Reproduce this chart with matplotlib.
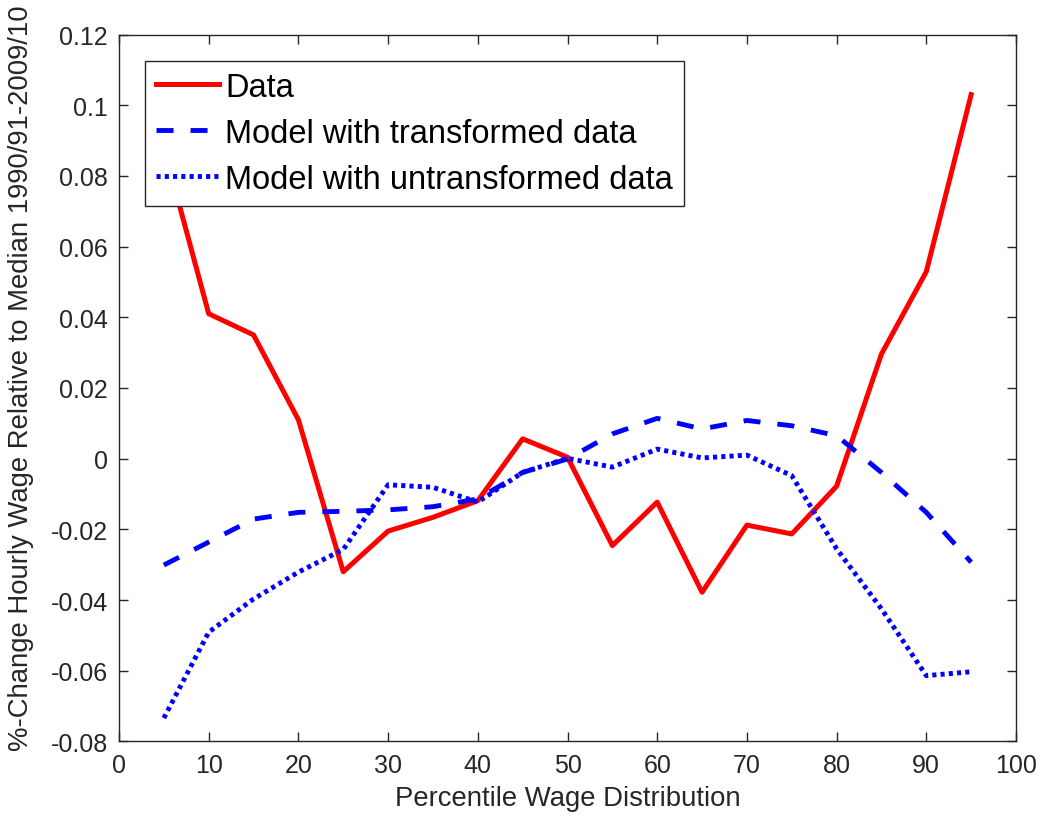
import numpy as np
import matplotlib.pyplot as plt

plt.rcParams['font.family'] = ['Liberation Sans', 'DejaVu Sans']

# percentiles of the wage distribution
pct = [5, 10, 15, 20, 25, 30, 35, 40, 45, 50, 55, 60, 65, 70, 75, 80, 85, 90, 95]

# observed change
data = [0.088, 0.041, 0.035, 0.011, -0.032, -0.0205, -0.0166, -0.0119, 0.0056, 0.0004,
        -0.0246, -0.0123, -0.0378, -0.0188, -0.0213, -0.0078, 0.0296, 0.0529, 0.103]
# model, transformed data
model_tr = [-0.0301, -0.0236, -0.0171, -0.0152, -0.0149, -0.0145, -0.0136, -0.0114, -0.0039, -0.0001,
            0.0070, 0.0114, 0.0084, 0.0108, 0.0093, 0.0065, -0.0039, -0.0152, -0.0293]
# model, untransformed data
model_untr = [-0.0734, -0.0491, -0.0397, -0.0321, -0.0257, -0.0074, -0.0081, -0.0123, -0.0039, 0.0001,
              -0.0024, 0.0027, 0.0002, 0.0010, -0.0048, -0.0255, -0.0425, -0.0614, -0.0603]

fig = plt.figure(figsize=(10.4, 8.28), dpi=100)
ax = fig.add_axes([119/1040, 1 - 742.4/828, 897/1040, 706.9/828])

ax.plot(pct, data, color='#ff0000', lw=3.6, label='Data')
ax.plot(pct, model_tr, color='#0000ff', lw=3.5, ls=(0, (3.5, 3.5)),
        label='Model with transformed data')
ax.plot(pct, model_untr, color='#0000ff', lw=3.5, ls=(0, (0.85, 0.85)),
        label='Model with untransformed data')

ax.set_xlim(0, 100)
ax.set_ylim(-0.08, 0.12)
ax.set_xticks(np.arange(0, 101, 10))
ax.set_yticks(np.arange(-0.08, 0.1201, 0.02))
ax.set_yticklabels(['-0.08', '-0.06', '-0.04', '-0.02', '0', '0.02', '0.04',
                    '0.06', '0.08', '0.1', '0.12'])

ax.tick_params(direction='in', length=6.5, width=1, colors='#262626', labelsize=18,
               top=True, right=True, pad=8)
for s in ax.spines.values():
    s.set_color('#262626')
    s.set_linewidth(1)

ax.set_xlabel('Percentile Wage Distribution', fontsize=19.8, color='#262626', labelpad=6)
ax.set_ylabel('%-Change Hourly Wage Relative to Median 1990/91-2009/10',
              fontsize=19.8, color='#262626')
ax.yaxis.set_label_coords(-0.095, 0.515)

leg = ax.legend(loc='upper left', bbox_to_anchor=(0.029, 0.9625), borderaxespad=0,
                fontsize=23.5, handlelength=1.93, handletextpad=0.2, labelspacing=0.46,
                borderpad=0.33, fancybox=False, framealpha=1)
leg.get_frame().set_edgecolor('#262626')
leg.get_frame().set_linewidth(1)

fig.savefig('out.png', dpi=100)
